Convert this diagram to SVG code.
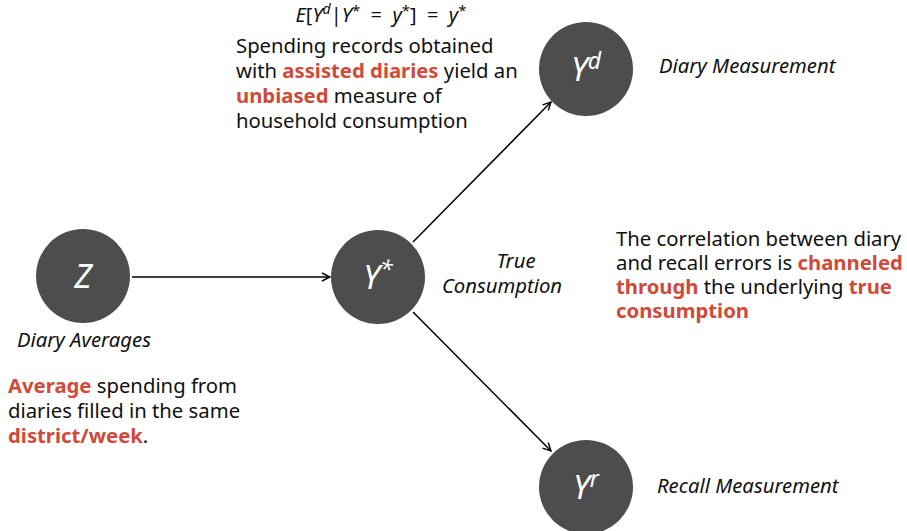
<svg xmlns="http://www.w3.org/2000/svg" width="907" height="531" viewBox="0 0 907 531">
<defs>
<marker id="ah" viewBox="0 0 10 10" refX="9" refY="5" markerWidth="10" markerHeight="10" markerUnits="userSpaceOnUse" orient="auto">
<path d="M1,1 L9,5 L1,9" fill="none" stroke="#000" stroke-width="1.4"/>
</marker>
<style>
.node{fill:#4d4d4d}
.nl{fill:#fff;font-family:"Noto Sans","DejaVu Sans",sans-serif;font-style:italic;font-size:33px;text-anchor:middle}
.sup{font-size:23px}
.t{font-family:"Noto Sans","DejaVu Sans",sans-serif;font-size:20.3px;fill:#111}
.it{font-family:"Noto Sans","DejaVu Sans",sans-serif;font-style:italic;font-size:20.3px;fill:#111}
.r{fill:#d04a3a;font-weight:bold}
.m{font-family:"Noto Sans","DejaVu Sans",sans-serif;font-size:20px;fill:#111}
.edge{stroke:#000;stroke-width:1.5;fill:none;marker-end:url(#ah)}
</style>
</defs>
<rect width="907" height="531" fill="#fff"/>
<g id="connectors">
<line class="edge" x1="132" y1="277" x2="330" y2="277"/>
<line class="edge" x1="413" y1="242" x2="551" y2="102"/>
<line class="edge" x1="413" y1="312" x2="551" y2="451"/>
</g>
<g id="node-Z">
<circle class="node" cx="83" cy="276" r="47"/>
<text class="nl" x="83" y="288">Z</text>
<text class="it" x="17" y="347">Diary Averages</text>
</g>
<g id="node-Ystar">
<circle class="node" cx="378" cy="277" r="47"/>
<text class="nl" x="378" y="289">Y<tspan class="sup" dy="-12">*</tspan></text>
<text class="it" x="516" y="268" text-anchor="middle">True</text>
<text class="it" x="502" y="293" text-anchor="middle">Consumption</text>
</g>
<g id="node-Yd">
<circle class="node" cx="586" cy="69" r="47"/>
<text class="nl" x="586" y="81">Y<tspan class="sup" dy="-12">d</tspan></text>
<text class="it" x="659" y="73">Diary Measurement</text>
</g>
<g id="node-Yr">
<circle class="node" cx="586" cy="487" r="47"/>
<text class="nl" x="586" y="499">Y<tspan class="sup" dy="-12">r</tspan></text>
<text class="it" x="657" y="493">Recall Measurement</text>
</g>
<g id="note-top">
<text class="m" x="381" y="22" text-anchor="middle" xml:space="preserve"><tspan font-style="italic">E</tspan>[<tspan font-style="italic">Y</tspan><tspan font-size="14" dy="-8" font-style="italic">d</tspan><tspan dy="8">|</tspan><tspan font-style="italic">Y</tspan><tspan font-size="15" dy="-6">*</tspan><tspan dy="6">  =  </tspan><tspan font-style="italic">y</tspan><tspan font-size="15" dy="-6">*</tspan><tspan dy="6">]  =  </tspan><tspan font-style="italic">y</tspan><tspan font-size="15" dy="-6">*</tspan></text>
<text class="t" x="236" y="53">Spending records obtained</text>
<text class="t" x="236" y="78">with <tspan class="r">assisted diaries</tspan> yield an</text>
<text class="t" x="236" y="103"><tspan class="r">unbiased</tspan> measure of</text>
<text class="t" x="236" y="128">household consumption</text>
</g>
<g id="note-left">
<text class="t" x="8" y="393"><tspan class="r">Average</tspan> spending from</text>
<text class="t" x="8" y="418">diaries filled in the same</text>
<text class="t" x="8" y="443"><tspan class="r">district/week</tspan>.</text>
</g>
<g id="note-right">
<text class="t" x="616" y="246">The correlation between diary</text>
<text class="t" x="616" y="270">and recall errors is <tspan class="r">channeled</tspan></text>
<text class="t" x="616" y="294"><tspan class="r">through</tspan> the underlying <tspan class="r">true</tspan></text>
<text class="t" x="616" y="318"><tspan class="r">consumption</tspan></text>
</g>
</svg>
